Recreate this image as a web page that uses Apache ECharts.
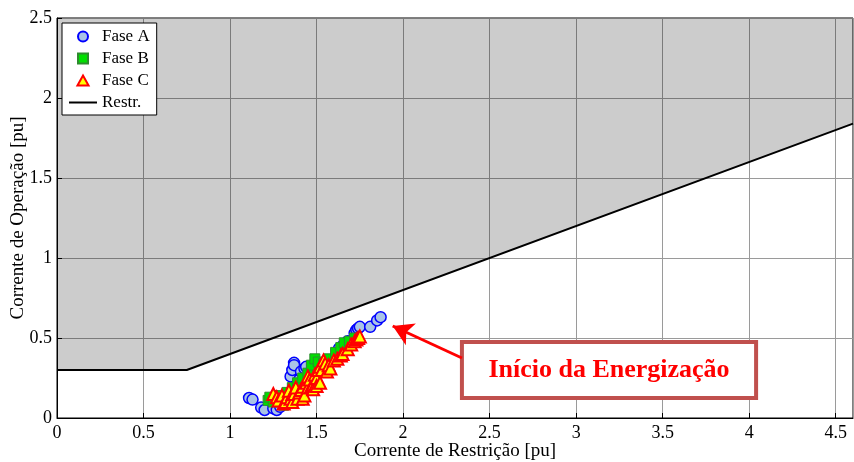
<!DOCTYPE html>
<html>
<head>
<meta charset="utf-8">
<script src="https://cdn.jsdelivr.net/npm/echarts@6/dist/echarts.min.js"></script>
<style>
html,body{margin:0;padding:0;background:#fff;}
#chart{width:854px;height:462px;}
</style>
</head>
<body>
<div id="chart"></div>
<script>
// Axis ticks
const xTicks = [0, 0.5, 1, 1.5, 2, 2.5, 3, 3.5, 4, 4.5];
const yTicks = [0, 0.5, 1, 1.5, 2, 2.5];

// Restraint characteristic: breakpoints (restraint current, operating current)
const restrX = [0, 0.75, 4.6];
const restrY = [0.3, 0.3, 1.84];

// Measured points per phase: [restraint, operating]
const faseA = [
  [1.11,0.125],[1.13,0.115],[1.18,0.065],[1.20,0.05],[1.25,0.06],[1.27,0.05],[1.29,0.07],
  [1.33,0.12],[1.35,0.26],[1.36,0.30],[1.37,0.345],[1.37,0.33],[1.38,0.16],[1.40,0.24],
  [1.41,0.29],[1.42,0.22],[1.43,0.31],[1.44,0.32],[1.46,0.20],[1.50,0.27],[1.55,0.30],
  [1.60,0.36],[1.63,0.435],[1.65,0.45],[1.68,0.48],[1.72,0.53],[1.73,0.55],[1.74,0.56],
  [1.75,0.57],[1.81,0.57],[1.85,0.61],[1.87,0.63]
];
const faseB = [
  [1.22,0.11],[1.23,0.13],[1.25,0.10],[1.28,0.14],[1.30,0.12],[1.31,0.08],[1.33,0.16],
  [1.35,0.10],[1.36,0.19],[1.39,0.22],[1.40,0.13],[1.42,0.25],[1.45,0.28],[1.47,0.33],
  [1.49,0.37],[1.51,0.35],[1.54,0.34],[1.57,0.37],[1.61,0.41],[1.64,0.44],[1.66,0.47],
  [1.69,0.48],[1.72,0.50]
];
const faseC = [
  [1.25,0.15],[1.27,0.13],[1.28,0.11],[1.30,0.14],[1.31,0.09],[1.32,0.10],[1.33,0.13],
  [1.34,0.17],[1.35,0.12],[1.36,0.15],[1.36,0.10],[1.37,0.15],[1.38,0.19],[1.39,0.12],
  [1.40,0.16],[1.41,0.175],[1.42,0.195],[1.42,0.12],[1.43,0.14],[1.44,0.22],[1.45,0.19],
  [1.45,0.26],[1.46,0.24],[1.47,0.20],[1.48,0.21],[1.48,0.18],[1.49,0.27],[1.50,0.25],
  [1.50,0.20],[1.51,0.30],[1.52,0.32],[1.52,0.22],[1.53,0.30],[1.54,0.36],[1.55,0.34],
  [1.56,0.29],[1.57,0.33],[1.58,0.31],[1.60,0.36],[1.62,0.37],[1.64,0.39],[1.65,0.40],
  [1.68,0.43],[1.70,0.46],[1.72,0.48],[1.73,0.49],[1.74,0.50],[1.75,0.51]
];

// Annotation: arrow tail/head and label box, in axis units
const arrowFrom = [2.34, 0.375];
const arrowTo = [1.94, 0.575];
const noteBox = [[2.34, 0.475], [4.04, 0.125]];
const noteText = 'Início da Energização';

const serif = '"Liberation Serif", "Times New Roman", serif';

// Legend glyphs drawn as paths so they keep their proportions
const squareIcon = 'path://M0,0H10V10H0Z';
const triangleIcon = 'path://M5,0L10,9L0,9Z';

const chart = echarts.init(document.getElementById('chart'), null, {renderer: 'canvas'});

chart.setOption({
  animation: false,
  textStyle: {fontFamily: serif},
  grid: {
    left: 57, top: 18, right: 1, bottom: 44,
    containLabel: false, outerBoundsMode: 'none',
    show: true, borderColor: '#000', borderWidth: 1, backgroundColor: 'transparent'
  },
  legend: {
    left: 62, top: 23, orient: 'vertical',
    backgroundColor: '#fff', borderColor: '#000', borderWidth: 1,
    padding: [5, 7, 4, 6], itemGap: 5, itemWidth: 28, itemHeight: 10,
    symbolKeepAspect: true,
    textStyle: {fontFamily: serif, fontSize: 17, color: '#000'},
    data: [
      {name: 'Fase A', icon: 'circle'},
      {name: 'Fase B', icon: squareIcon},
      {name: 'Fase C', icon: triangleIcon},
      {name: 'Restr.'}
    ]
  },
  xAxis: {
    type: 'value', min: 0, max: 4.6, interval: 0.5,
    name: 'Corrente de Restrição [pu]', nameLocation: 'middle', nameGap: 24, nameMoveOverlap: false,
    nameTextStyle: {fontFamily: serif, fontSize: 19, color: '#000'},
    axisLine: {show: true, lineStyle: {color: '#000'}},
    axisTick: {show: true, inside: true, length: 5, lineStyle: {color: '#000'}},
    axisLabel: {color: '#000', fontSize: 18, fontFamily: serif, margin: 6, showMaxLabel: false,
      formatter: v => xTicks.includes(+v.toFixed(2)) ? String(+v.toFixed(2)) : ''},
    splitLine: {show: true, lineStyle: {color: '#9a9a9a', width: 1}}
  },
  yAxis: {
    type: 'value', min: 0, max: 2.5, interval: 0.5,
    name: 'Corrente de Operação [pu]', nameLocation: 'middle', nameGap: 29, nameMoveOverlap: false,
    nameTextStyle: {fontFamily: serif, fontSize: 19, color: '#000'},
    axisLine: {show: true, lineStyle: {color: '#000'}},
    axisTick: {show: true, inside: true, length: 5, lineStyle: {color: '#000'}},
    axisLabel: {color: '#000', fontSize: 18, fontFamily: serif, margin: 5,
      formatter: v => yTicks.includes(+v.toFixed(2)) ? String(+v.toFixed(2)) : ''},
    splitLine: {show: true, lineStyle: {color: '#9a9a9a', width: 1}}
  },
  series: [
    {
      name: 'Restr.', type: 'line', symbol: 'none', z: 2,
      data: restrX.map((x, i) => [x, restrY[i]]),
      lineStyle: {color: '#000', width: 2},
      itemStyle: {color: 'rgba(0,0,0,0)'},
      areaStyle: {origin: 'end', color: 'rgba(0,0,0,0.2)', opacity: 1}
    },
    {
      name: 'Fase A', type: 'scatter', symbol: 'circle', symbolSize: 11, z: 3,
      data: faseA,
      itemStyle: {color: '#a9c3e6', borderColor: '#0000ff', borderWidth: 1.5, opacity: 1}
    },
    {
      name: 'Fase B', type: 'scatter', symbol: 'rect', symbolSize: 10, z: 4,
      data: faseB,
      itemStyle: {color: '#00e000', borderColor: '#2e8b2e', borderWidth: 1, opacity: 1}
    },
    {
      name: 'Fase C', type: 'scatter', symbol: 'triangle', symbolSize: 12, z: 5,
      data: faseC,
      itemStyle: {color: '#ffff00', borderColor: '#ff0000', borderWidth: 2, opacity: 1},
      markLine: {
        silent: true, symbol: ['none', 'arrow'], symbolSize: [18, 20],
        lineStyle: {color: '#ff0000', width: 3, type: 'solid'},
        label: {show: false},
        data: [[{coord: arrowFrom}, {coord: arrowTo}]]
      },
      markArea: {
        silent: true,
        itemStyle: {color: '#fff', borderColor: '#c0504d', borderWidth: 4},
        label: {show: true, position: 'inside', formatter: noteText,
          fontFamily: serif, fontSize: 26, fontWeight: 'bold', color: '#ff0000'},
        data: [[{coord: noteBox[0]}, {coord: noteBox[1]}]]
      }
    }
  ]
});
</script>
</body>
</html>
